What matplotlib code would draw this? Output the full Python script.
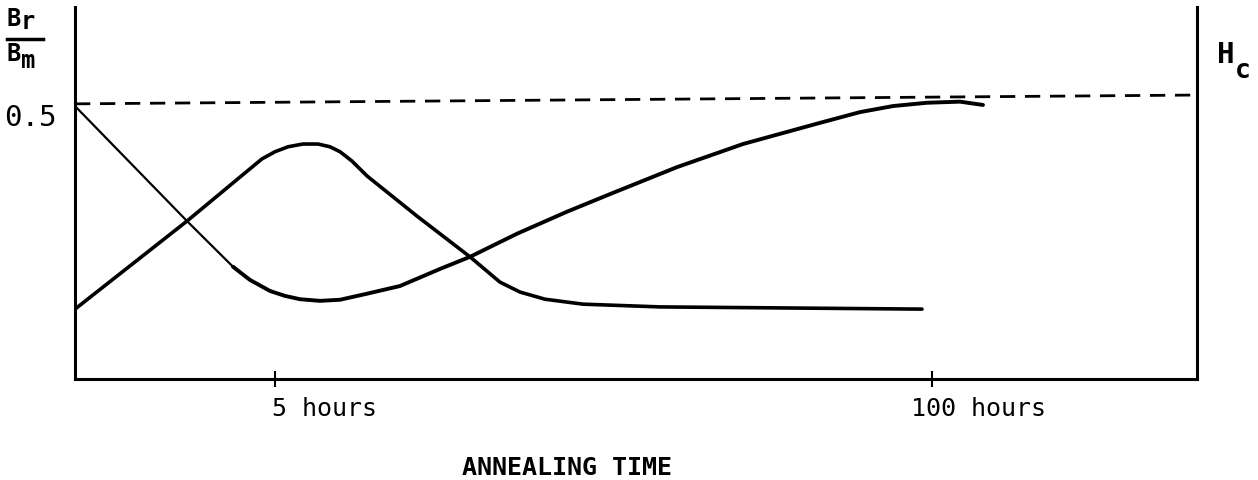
import numpy as np
import matplotlib.pyplot as plt
from matplotlib.transforms import ScaledTranslation
from matplotlib.lines import Line2D

# DATA (x = position along the time axis, y = Br/Bm)
fall_x = [0, 112, 158]
fall_y = [0.496, 0.287, 0.204]

rise_x = [158, 175, 195, 210, 225, 245, 265, 292, 325, 365, 395, 442, 492,
          535, 602, 668, 742, 785, 818, 852, 885, 908]
rise_y = [0.204, 0.180, 0.160, 0.151, 0.145, 0.142, 0.144, 0.155, 0.169,
          0.200, 0.222, 0.264, 0.304, 0.336, 0.385, 0.427, 0.464, 0.485,
          0.496, 0.502, 0.504, 0.498]

hc_x = [0, 112, 175, 187, 200, 213, 228, 243, 255, 265, 277, 292, 342, 395,
        425, 445, 470, 508, 585, 847]
hc_y = [0.127, 0.287, 0.382, 0.400, 0.413, 0.422, 0.427, 0.427, 0.422,
        0.413, 0.396, 0.369, 0.296, 0.222, 0.176, 0.158, 0.145, 0.136,
        0.131, 0.127]

ref_x = [0, 1122]
ref_y = [0.500, 0.516]

tick_pos = [200, 857]
tick_labels = ['5 hours', '100 hours']
###

plt.rcParams['font.family'] = 'DejaVu Sans Mono'

W, H = 1258, 481
fig = plt.figure(figsize=(W / 100, H / 100), dpi=100)
ax = fig.add_axes([75 / W, 101 / H, 1122 / W, 372 / H])


def px(x, y):
    return x / W, 1 - y / H


# curves
ax.plot(fall_x, fall_y, color='black', lw=1.6, solid_capstyle='round')
ax.plot(rise_x, rise_y, color='black', lw=2.8, solid_capstyle='round',
        solid_joinstyle='round')
ax.plot(hc_x, hc_y, color='black', lw=2.6, solid_capstyle='round',
        solid_joinstyle='round')
ax.plot(ref_x, ref_y, color='black', lw=2.0, dashes=(5.5, 3.5))

ax.set_xlim(0, 1122)
ax.set_ylim(0, 0.676)

# axes frame
ax.spines['top'].set_visible(False)
for s in ['left', 'right', 'bottom']:
    ax.spines[s].set_linewidth(2.2)
ax.set_yticks([])
ax.set_xticks(tick_pos, tick_labels)
ax.tick_params(axis='x', direction='inout', length=12, width=1.5, pad=6,
               labelsize=18)
labs = ax.get_xticklabels()
for lab in labs:
    lab.set_horizontalalignment('left')
labs[0].set_transform(labs[0].get_transform() +
                      ScaledTranslation(-3 / 100, 0, fig.dpi_scale_trans))
labs[1].set_transform(labs[1].get_transform() +
                      ScaledTranslation(-21 / 100, 0, fig.dpi_scale_trans))

# texts
fig.text(*px(57, 126), '0.5', ha='right', va='baseline', fontsize=21)
fig.text(*px(6, 26), 'B', ha='left', va='baseline', fontsize=17, weight='bold')
fig.text(*px(21, 29), 'r', ha='left', va='baseline', fontsize=17, weight='bold')
fig.text(*px(6, 61), 'B', ha='left', va='baseline', fontsize=17, weight='bold')
fig.text(*px(21, 68), 'm', ha='left', va='baseline', fontsize=17, weight='bold')
fig.add_artist(Line2D([7 / W, 43 / W], [1 - 40 / H, 1 - 40 / H],
                      color='black', lw=2.5))
fig.text(*px(1217, 63), 'H', ha='left', va='baseline', fontsize=21, weight='bold')
fig.text(*px(1235, 78), 'c', ha='left', va='baseline', fontsize=19, weight='bold')
fig.text(*px(567, 468), 'ANNEALING TIME', ha='center', va='center',
         fontsize=18, weight='bold')

fig.savefig('out.png', dpi=100)
